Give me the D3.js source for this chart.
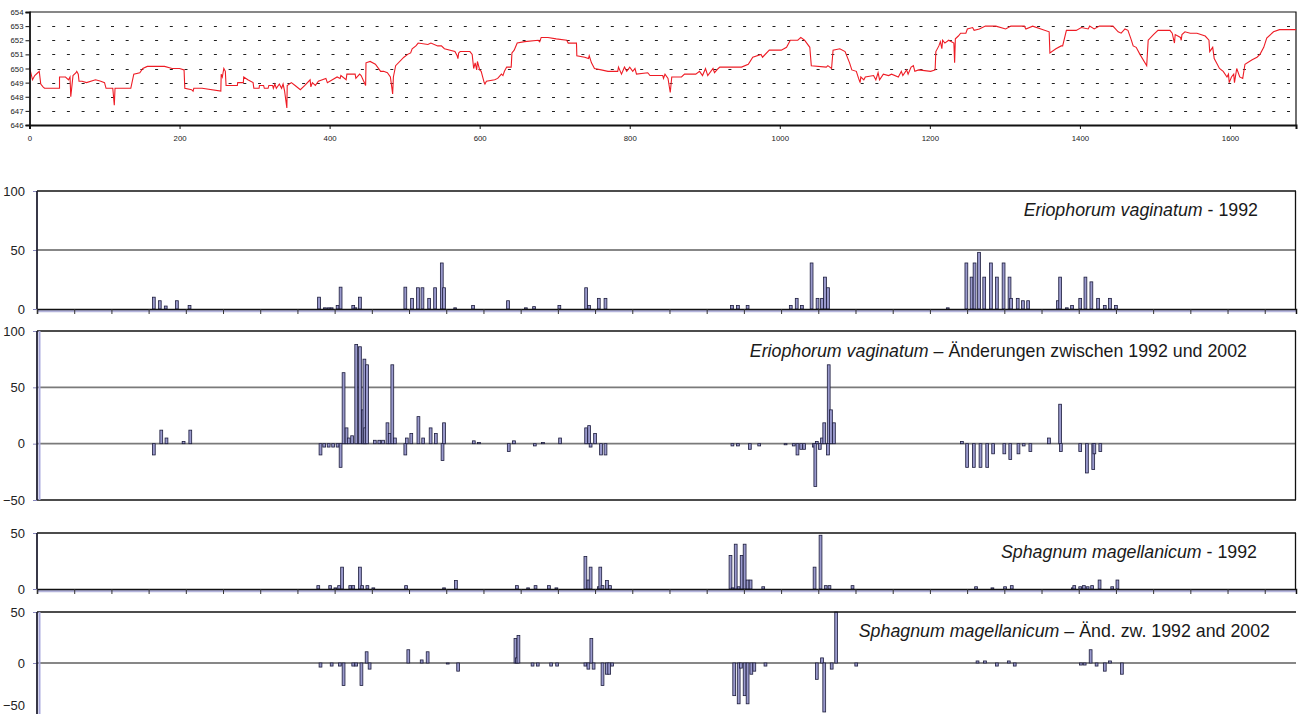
<!DOCTYPE html>
<html>
<head>
<meta charset="utf-8">
<script src="https://cdn.jsdelivr.net/npm/d3@7"></script>
<style>
  body { margin: 0; background: #fff; }
  svg { display: block; }
  text { font-family: "Liberation Sans", Arial, sans-serif; }
</style>
</head>
<body>
<div id="chart"></div>
<script>
////////////////////////////////////////////////////////////////////////
// Data

// surface profile: [station, elevation m]
const profile = [
  [0,650.1],[4,649.2],[7,649.5],[11,649.7],[13,649.8],[15,648.9],[18,648.7],[20,648.6],[40,648.6],[40,649.4],
  [48,649.4],[52,649.2],[54,649.4],[55,648.0],[58,649.5],[62,649.7],[63,649.8],[65,649.6],[66,649.1],[70,649.1],
  [76,649.0],[88,649.2],[95,649.1],[100,649.0],[102,648.6],[111,648.6],[113,647.4],[114,648.6],[135,648.6],[139,649.6],
  [147,649.7],[151,650.0],[157,650.15],[180,650.15],[190,650.0],[200,650.0],[206,649.9],[207,648.6],[216,648.5],[218,648.4],
  [219,648.6],[230,648.6],[255,648.4],[255.5,649.6],[257,649.4],[259,650.0],[261,649.8],[262,648.8],[277,648.8],[277.5,649.0],
  [285,649.0],[285.5,649.4],[291,649.2],[298,649.0],[299,648.6],[306,648.6],[306.5,648.8],[312,648.8],[313,648.6],[318,648.6],
  [319,648.8],[324,648.8],[325,648.6],[327,648.9],[329,648.6],[333,648.9],[336,648.6],[338,648.9],[340,648.4],[343,647.2],
  [343.5,648.8],[349,649.0],[354,648.8],[361,648.5],[367,648.8],[374,649.2],[375,648.7],[377,649.0],[381,648.8],[385,649.1],
  [395,649.3],[397,649.0],[410,649.4],[414,649.3],[415,649.5],[422,649.2],[423,649.6],[434,649.6],[435,649.3],[440,649.6],
  [442,649.5],[448,648.8],[448.5,650.4],[454,650.5],[461,650.3],[468,649.8],[472,649.8],[477,649.7],[481,649.4],[484,648.2],
  [485,649.4],[488,650.2],[499,650.8],[504,651.0],[508,651.1],[510,651.4],[515,651.6],[518,651.8],[531,651.7],[535,651.8],
  [544,651.6],[549,651.6],[553,651.4],[567,651.2],[570,650.9],[571,650.7],[572,651.1],[574,651.2],[587,651.2],[590,651.0],
  [592,650.0],[594,650.4],[596,649.9],[597,650.5],[600,649.9],[602,649.8],[606,649.0],[607,648.9],[609,649.1],[620,649.2],
  [624,649.3],[629,649.6],[631,649.5],[633,649.8],[636,650.1],[642,650.1],[643,651.1],[646,651.3],[650,651.8],[660,651.9],
  [678,652.0],[680,651.9],[682,652.2],[691,652.2],[702,652.1],[716,652.0],[718,651.8],[729,651.8],[729.5,650.9],[740,650.8],
  [745,650.7],[746,650.9],[749,650.4],[753,650.0],[762,649.9],[771,649.8],[784,649.8],[785,650.1],[789,649.6],[793,650.1],
  [796,649.8],[800,650.1],[804,649.8],[807,650.0],[809,649.6],[824,649.7],[827,649.5],[844,649.5],[845,649.3],[847,649.6],
  [851,649.3],[854,648.3],[856,649.4],[869,649.4],[873,649.6],[888,649.6],[893,649.8],[897,649.5],[901,650.0],[904,649.5],
  [911,650.0],[913,649.7],[918,650.0],[920,650.1],[949,650.1],[958,650.3],[964,650.8],[975,651.0],[977,650.8],[986,651.3],
  [1002,651.3],[1009,651.5],[1014,652.0],[1024,652.0],[1028,652.2],[1033,652.0],[1040,651.5],[1042,650.2],[1062,650.1],[1064,650.2],
  [1069,650.0],[1071,651.3],[1080,651.4],[1087,651.2],[1093,650.4],[1096,649.9],[1102,649.8],[1105,649.3],[1107,649.0],[1108,649.4],
  [1112,649.2],[1114,649.4],[1125,649.5],[1128,649.2],[1131,649.7],[1133,649.2],[1138,649.6],[1145,649.5],[1149,649.6],[1158,649.4],
  [1162,649.8],[1164,649.5],[1169,649.9],[1171,649.6],[1175,650.1],[1178,650.2],[1180,649.8],[1185,649.9],[1201,649.8],[1207,649.9],
  [1208,651.2],[1212,651.6],[1214,651.9],[1216,651.4],[1217,652.0],[1220,651.8],[1225,652.0],[1232,651.8],[1233,650.4],[1234,652.1],
  [1238,652.3],[1241,652.5],[1248,652.5],[1250,652.8],[1257,652.9],[1259,652.7],[1266,652.8],[1274,653.0],[1288,653.0],[1301,652.8],
  [1308,653.0],[1326,653.0],[1328,652.8],[1337,653.0],[1359,652.6],[1360,651.1],[1368,651.4],[1375,651.6],[1377,651.6],[1382,652.7],
  [1395,652.7],[1402,652.9],[1411,652.8],[1413,653.0],[1419,652.8],[1426,653.0],[1444,653.0],[1451,652.6],[1455,652.5],[1460,652.8],
  [1464,652.7],[1468,652.1],[1471,651.6],[1475,651.5],[1480,651.0],[1489,650.2],[1491,652.0],[1498,652.4],[1504,652.7],[1520,652.7],
  [1523,652.5],[1526,651.8],[1527,652.4],[1534,652.2],[1535,652.0],[1536,652.4],[1540,652.6],[1547,652.5],[1556,652.5],[1567,652.3],
  [1572,652.0],[1573,651.2],[1577,651.5],[1579,650.7],[1582,650.4],[1586,650.0],[1591,649.8],[1596,649.4],[1598,649.6],[1599,649.0],
  [1602,649.4],[1605,649.6],[1606,649.0],[1609,650.0],[1613,649.4],[1617,649.3],[1620,650.3],[1629,650.6],[1636,650.8],[1640,651.0],
  [1645,651.5],[1649,652.15],[1658,652.6],[1666,652.75],[1688,652.75]
];

const profileYTicks = [646, 647, 648, 649, 650, 651, 652, 653, 654];
const profileXTicks = [0, 200, 400, 600, 800, 1000, 1200, 1400, 1600];

// cover values per station: [station, %]
const erio1992 = [
  [157,10],[165,7],[173,2.5],[188,7],[205,3],[379,10],[387,1],[392,1],[396,1],[404,3],
  [408,18.5],[425,3],[428,1],[434,10],[495,18.5],[504,9],[512,18],[518,18],[527,9],[535,18],
  [544,39],[547,18],[562,1],[586,3],[633,7],[657,1],[668,2],[702,3],[738,18],[742,3],
  [755,9],[764,9],[934,3],[942,3],[955,3],[1013,3],[1021,9],[1028,3],[1041,39],[1049,9],
  [1055,9],[1059,27],[1063,18],[1224,1],[1249,39],[1256,27],[1260,39],[1266,48],[1273,27],[1282,39],
  [1290,27],[1299,39],[1307,27],[1309,9],[1318,9],[1325,7],[1332,7],[1372,7],[1375,27],[1384,1],
  [1391,3],[1402,9],[1409,27],[1417,23],[1426,9],[1435,3],[1442,9],[1450,3]
];

const erioChange = [
  [157,-10],[167,12],[174,5],[197,2],[206,12],[381,-10],[386,-3],[392,-3],[398,-3],[404,-3],
  [408,-21],[412,63],[416,14],[419,5],[423.5,7],[429,88],[434,86],[438,30],[440,75],[441,14],
  [443.5,70],[454,3],[460,3],[465,3],[471,18.5],[474,9],[477.5,70],[481,5],[495,-10],[497,5],
  [503,9],[512.6,24],[519,5],[529,14],[536,9],[545,-15],[547,18.5],[587,2.5],[594,1],[634,-7],
  [641,2.5],[669,-2],[680,1],[703,5],[738,14],[742,16],[744,-3],[750,9],[758,-10],[764,-10],
  [934.6,-2],[942,-2],[958,-5],[970.6,-2],[1006,-1],[1017,-2],[1022,-10],[1027,-5],[1031,-5],[1044,-3],
  [1046,-38],[1048,2],[1052,-5],[1055,5],[1058,18.5],[1063,-10],[1064,70],[1067,30],[1071,18.5],[1243,2],
  [1250,-21],[1259,-21],[1268,-21],[1277,-21],[1285,-9],[1300,-9],[1308,-14],[1319,-9],[1326,-2],[1335,-7],
  [1360,5],[1375,35],[1376,-7],[1402,-7],[1411,-26],[1419.5,-23],[1421,-9],[1429,-7]
];

const sphag1992 = [
  [378,3],[394,3],[401,1],[406,3],[410,19.5],[421,3],[425,3],[434,19.5],[437,3],[444,3],
  [452,1],[496,3],[547,1],[563,7.5],[645,3],[660,1],[670,3],[688,3],[698,1],[737,29],
  [741,8],[744,19.5],[755,2],[757,19.5],[760,3],[766,7.5],[770,3],[932,30],[935,1],[939,40],
  [943,2],[947,30],[951,40],[955,8],[959,8],[976,2],[1045,19.5],[1053,48],[1060,3],[1065,3],
  [1096,3],[1262,2],[1284,1],[1301,2],[1310,3],[1392,1],[1394,3],[1402,2],[1407,3],[1412,2],
  [1418,3],[1428,8],[1445,2],[1452,8]
];

const sphagChange = [
  [381,-4],[396,-3],[407,-3],[412,-22],[425,-3],[429,-3],[436,-22],[443,11],[447,-6],[499,13],
  [517,3],[525,11],[552,-1],[566,-8],[643,24],[645,5],[647,27],[666,-3],[673,-3],[691,-3],
  [699,-3],[737,-3],[741,-6],[745,24],[748,-6],[760,-22],[766,-11],[769,-11],[773,-3],[937,-32],
  [943,-40],[946,-5],[951,-32],[955,-40],[960,-11],[964,-8],[979,-3],[1048,-16],[1055,5],[1058,-48],
  [1068,-6],[1074,50],[1101,-3],[1264,2],[1274,2],[1290,-3],[1306,2],[1314,-3],[1403,-2],[1408,-2],
  [1416,13],[1424,-3],[1435,-8],[1442,2],[1458,-11]
];

////////////////////////////////////////////////////////////////////////

const W = 1298, H = 714;
const svg = d3.select("#chart").append("svg")
  .attr("width", W).attr("height", H);

svg.append("rect").attr("width", W).attr("height", H).attr("fill", "#fff");

// ---------------- top: profile line
let xProf = d3.scaleLinear().domain([0, 1688]).range([29.5, 1296]);
let yProf = d3.scaleLinear().domain([646, 654]).range([125, 12]);

let profileG = svg.append("g");

// dashed grid lines
profileG.append("g")
  .selectAll("line")
  .data(profileYTicks.slice(1, -1))
  .enter()
  .append("line")
  .attr("x1", xProf(0) + 8).attr("x2", 1296)
  .attr("y1", d => Math.round(yProf(d)) + 0.5)
  .attr("y2", d => Math.round(yProf(d)) + 0.5)
  .attr("stroke", "#222")
  .attr("stroke-width", 1)
  .attr("stroke-dasharray", "3,11.7");

// frame top and right
profileG.append("path")
  .attr("d", `M${xProf(0)},${yProf(654)}H1296V${yProf(646)}`)
  .attr("fill", "none").attr("stroke", "#111").attr("stroke-width", 1.2);

profileG.append("path")
  .datum(profile)
  .attr("fill", "none")
  .attr("stroke", "#ee1c25")
  .attr("stroke-width", 1.1)
  .attr("d", d3.line().x(d => xProf(d[0])).y(d => yProf(d[1])));

let yAxisTop = d3.axisLeft(yProf).tickValues(profileYTicks).tickSize(4).tickPadding(2).tickFormat(d3.format("d"));
let xAxisTop = d3.axisBottom(xProf).tickValues(profileXTicks).tickSize(4).tickPadding(6).tickFormat(d3.format("d"));

profileG.append("g")
  .attr("transform", `translate(${xProf(0)},0)`)
  .call(yAxisTop)
  .call(g => g.select(".domain").attr("stroke", "#111").attr("stroke-width", 1.8))
  .call(g => g.selectAll(".tick line").attr("stroke", "#111"))
  .call(g => g.selectAll("text").attr("font-family", "DejaVu Sans").attr("font-size", 7.8).attr("fill", "#222"));

profileG.append("g")
  .attr("transform", `translate(0,${yProf(646)})`)
  .call(xAxisTop)
  .call(g => g.select(".domain").attr("stroke", "#111").attr("stroke-width", 2))
  .call(g => g.selectAll(".tick line").attr("stroke", "#111"))
  .call(g => g.selectAll("text").attr("font-family", "DejaVu Sans").attr("font-size", 7.8).attr("fill", "#222"));

// ---------------- bar panels
let xBar = d3.scaleLinear().domain([0, 1692]).range([37, 1296]);

function makePanel(data, cfg) {
  let g = svg.append("g");
  let y = d3.scaleLinear().domain(cfg.domain).range(cfg.range);
  let x0 = xBar(0), x1 = xBar.range()[1];

  // grid lines
  cfg.grid.forEach(gl => {
    g.append("line")
      .attr("x1", x0).attr("x2", x1)
      .attr("y1", y(gl.v)).attr("y2", y(gl.v))
      .attr("stroke", gl.color).attr("stroke-width", gl.w);
  });

  // lavender shadow under category axis
  if (cfg.catAxis) {
    g.append("line")
      .attr("x1", x0).attr("x2", x1)
      .attr("y1", y(0) + 2).attr("y2", y(0) + 2)
      .attr("stroke", "#b4b4dc").attr("stroke-width", 2.5);
  }

  // bars
  g.append("g")
    .selectAll("rect")
    .data(data)
    .enter()
    .append("rect")
    .attr("x", d => xBar(d[0]) - 1.4)
    .attr("width", 2.8)
    .attr("y", d => Math.min(y(d[1]), y(0)))
    .attr("height", d => Math.abs(y(d[1]) - y(0)))
    .attr("fill", "#9999cc")
    .attr("stroke", "#1c1c3c")
    .attr("stroke-width", 0.8);

  // top border and right border
  g.append("line")
    .attr("x1", x0).attr("x2", x1)
    .attr("y1", y(cfg.domain[1])).attr("y2", y(cfg.domain[1]))
    .attr("stroke", "#111").attr("stroke-width", 1.3);
  if (cfg.rightBorder) {
    g.append("line")
      .attr("x1", x1 - 0.5).attr("x2", x1 - 0.5)
      .attr("y1", y(cfg.domain[1])).attr("y2", y(cfg.domain[0]))
      .attr("stroke", "#111").attr("stroke-width", 1.3);
  }
  if (cfg.bottomBorder) {
    g.append("line")
      .attr("x1", x0).attr("x2", x1)
      .attr("y1", y(cfg.domain[0])).attr("y2", y(cfg.domain[0]))
      .attr("stroke", "#111").attr("stroke-width", 1.3);
  }

  // category axis with ticks every 50 stations
  if (cfg.catAxis) {
    let xAxis = d3.axisBottom(xBar).tickValues(d3.range(0, 1692, 50)).tickSize(5).tickFormat("");
    g.append("g")
      .attr("transform", `translate(0,${y(0)})`)
      .call(xAxis)
      .call(a => a.select(".domain").attr("stroke", "#111").attr("stroke-width", 1.5))
      .call(a => a.selectAll(".tick line").attr("stroke", "#333"));
  }

  // value axis
  let yAxis = d3.axisLeft(y).tickValues(cfg.ticks).tickSize(4).tickPadding(8);
  let ya = g.append("g")
    .attr("transform", `translate(${x0},0)`)
    .call(yAxis);
  ya.select(".domain").remove();
  ya.selectAll(".tick line").attr("stroke", "#8888bb");
  ya.selectAll("text")
    .attr("font-family", "Liberation Sans, Arial, sans-serif")
    .attr("font-size", 13).attr("fill", "#222");
  // keep a label sitting on the lower page edge readable
  ya.selectAll("text")
    .filter(d => y(d) > H - 6)
    .attr("dy", "-0.35em");
  if (cfg.lavenderAxis) {
    g.append("line")
      .attr("x1", x0 + 2.5).attr("x2", x0 + 2.5)
      .attr("y1", y(cfg.domain[1])).attr("y2", y(cfg.domain[0]))
      .attr("stroke", "#a8a8dc").attr("stroke-width", 2);
  }
  g.append("line")
    .attr("x1", x0).attr("x2", x0)
    .attr("y1", y(cfg.domain[1])).attr("y2", y(cfg.domain[0]))
    .attr("stroke", "#222233").attr("stroke-width", 1.8);

  // title
  let t = g.append("text")
    .attr("x", cfg.titleX).attr("y", cfg.titleY)
    .attr("text-anchor", "end")
    .attr("font-size", 17.8).attr("fill", "#1a1a1a");
  t.append("tspan").attr("font-style", "italic").text(cfg.species);
  t.append("tspan").text(cfg.rest);
}

makePanel(erio1992, {
  domain: [0, 100], range: [309, 191], ticks: [0, 50, 100],
  grid: [{v: 50, color: "#111", w: 1.2}],
  catAxis: true, rightBorder: true, bottomBorder: false, lavenderAxis: false,
  species: "Eriophorum vaginatum", rest: " - 1992", titleX: 1258, titleY: 216
});

makePanel(erioChange, {
  domain: [-50, 100], range: [500, 331], ticks: [-50, 0, 50, 100],
  grid: [{v: 50, color: "#7a7a7a", w: 1.6}, {v: 0, color: "#7a7a7a", w: 1.6}],
  catAxis: false, rightBorder: true, bottomBorder: true, lavenderAxis: true,
  species: "Eriophorum vaginatum", rest: " \u2013 \u00c4nderungen zwischen 1992 und 2002", titleX: 1247, titleY: 357
});

makePanel(sphag1992, {
  domain: [0, 50], range: [589, 533], ticks: [0, 50],
  grid: [],
  catAxis: true, rightBorder: true, bottomBorder: false, lavenderAxis: false,
  species: "Sphagnum magellanicum", rest: " - 1992", titleX: 1257, titleY: 558
});

makePanel(sphagChange, {
  domain: [-50, 50], range: [714, 612], ticks: [-50, 0, 50],
  grid: [{v: 0, color: "#111", w: 1.2}],
  catAxis: false, rightBorder: false, bottomBorder: false, lavenderAxis: true,
  species: "Sphagnum magellanicum", rest: " \u2013 \u00c4nd. zw. 1992 and 2002", titleX: 1270, titleY: 637
});
</script>
</body>
</html>
